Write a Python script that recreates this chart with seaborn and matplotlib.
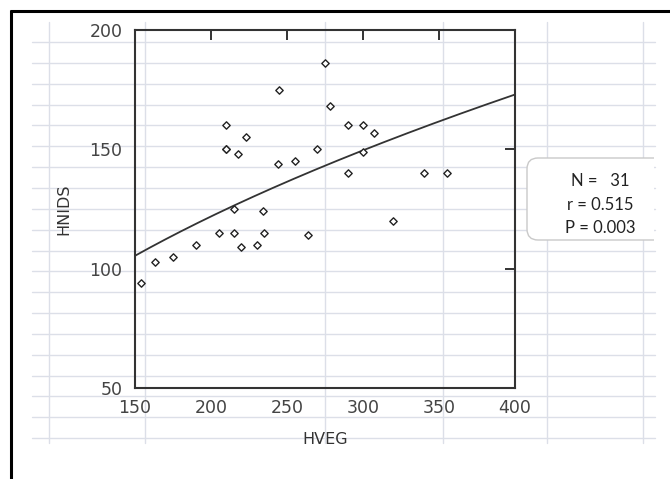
import numpy as np
import pandas as pd
import matplotlib
matplotlib.use("Agg")
import matplotlib.pyplot as plt
import seaborn as sns
from matplotlib.patches import FancyBboxPatch
from matplotlib.transforms import Bbox

# values
hveg = [154, 163, 175, 190, 205, 210, 210, 215, 215, 218, 220, 223, 230, 234, 235,
        244, 245, 255, 264, 270, 275, 278, 290, 290, 300, 300, 307, 320, 340, 355, 210]
hnids = [94, 103, 105, 110, 115, 160, 150, 125, 115, 148, 109, 155, 110, 124, 115,
         144, 175, 145, 114, 150, 186, 168, 160, 140, 160, 149, 157, 120, 140, 140, 150]
# fitted curve y = a * x^b as drawn in the picture
fit_a_at150 = 105.4
fit_b = 0.505
stats_text = ["N =   31", "r = 0.515", "P = 0.003"]
x_ticks = [150, 200, 250, 300, 350, 400]
y_ticks = [50, 100, 150, 200]

df = pd.DataFrame({"HVEG": hveg, "HNIDS": hnids})

sns.set_style("white")
plt.rcParams["font.family"] = ["DejaVu Sans"]

fig = plt.figure(figsize=(6.7, 4.79), dpi=100)

# spreadsheet background (pixel coords)
bg = fig.add_axes([0, 0, 1, 1], zorder=0)
bg.set_xlim(0, 670)
bg.set_ylim(479, 0)
bg.axis("off")
grid_c = "#dcdfe8"
for k in range(20):
    yy = 42 + 20.85 * k
    bg.plot([32, 655], [yy, yy], color=grid_c, lw=1.0)
for xx in [49, 145, 325, 443, 547, 643]:
    bg.plot([xx, xx], [22, 443], color=grid_c, lw=1.0)
# outer frame (top and left only)
bg.plot([10, 672], [10.5, 10.5], color="black", lw=2.2, solid_capstyle="butt")
bg.plot([10.5, 10.5], [10, 481], color="black", lw=2.2, solid_capstyle="butt")

# stats box
box = FancyBboxPatch((527, 158), 200, 82, boxstyle="round,pad=0,rounding_size=11",
                     facecolor="white", edgecolor="#c9c9c9", lw=1.0, zorder=2)
bg.add_patch(box)
box.set_clip_box(Bbox.from_extents(0, 0, 654, 479))
for i, t in enumerate(stats_text):
    bg.text(600, 181 + 23.5 * i, t, ha="center", va="center", fontsize=12,
            family=["Lato", "DejaVu Sans"], color="#222222", zorder=3)

ax = fig.add_axes([135 / 670, 1 - 388 / 479, 380 / 670, 358 / 479], zorder=1)
ax.patch.set_alpha(0)

sns.scatterplot(data=df, x="HVEG", y="HNIDS", ax=ax, marker="D", s=14,
                facecolor="white", edgecolor="#222222", linewidth=1.0, zorder=3)

xs = np.linspace(150, 400, 200)
ax.plot(xs, fit_a_at150 * (xs / 150) ** fit_b, color="#333333", lw=1.3, zorder=2)

ax.set_xlim(150, 400)
ax.set_ylim(50, 200)
ax.set_xticks(x_ticks)
ax.set_yticks(y_ticks)
for s in ax.spines.values():
    s.set_color("#333333")
    s.set_linewidth(1.5)
ax.tick_params(direction="in", length=7, width=1.4, color="#333333",
               top=True, right=True, labelsize=12.5, labelcolor="#444444")
ax.tick_params(axis="x", pad=8)
ax.tick_params(axis="y", pad=9)
ax.set_xlabel("HVEG", fontsize=11.5, color="#333333")
ax.set_ylabel("HNIDS", fontsize=11.5, color="#333333")
ax.xaxis.set_label_coords(0.5, -0.123)
ax.yaxis.set_label_coords(-0.168, 0.5)

fig.savefig("out.png", dpi=100)
